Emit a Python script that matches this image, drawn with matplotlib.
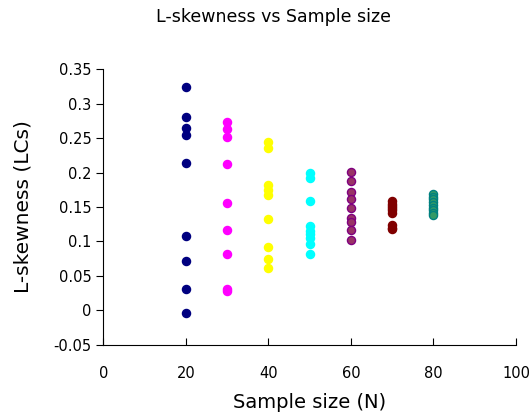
import matplotlib
matplotlib.use('Agg')
import matplotlib.pyplot as plt

plt.rcParams['font.family'] = ['DejaVu Sans']

# sample sizes and L-skewness values
n20 = [0.3235, 0.2809, 0.2649, 0.2539, 0.2138, 0.1084, 0.0717, 0.0312, -0.0032]
n30 = [0.2736, 0.2626, 0.2519, 0.2119, 0.1554, 0.1167, 0.0823, 0.0310, 0.0285]
n40 = [0.2446, 0.2359, 0.1819, 0.1746, 0.1674, 0.1326, 0.0925, 0.0742, 0.0620]
n50 = [0.1988, 0.1916, 0.1591, 0.1225, 0.1150, 0.1109, 0.1046, 0.0959, 0.0819]
n60 = [0.2003, 0.1872, 0.1717, 0.1612, 0.1490, 0.1336, 0.1287, 0.1167, 0.1026]
n70 = [0.1580, 0.1550, 0.1510, 0.1480, 0.1450, 0.1420, 0.1240, 0.1200, 0.1180]
n80 = [0.1690, 0.1650, 0.1610, 0.1570, 0.1530, 0.1490, 0.1450, 0.1410, 0.1380]

sizes = [20, 30, 40, 50, 60, 70, 80]
series = [n20, n30, n40, n50, n60, n70, n80]
faces = ['#000080', '#FF00FF', '#FFFF00', '#00FFFF', '#993366', '#800000', '#339966']
edges = ['#000080', '#FF00FF', '#FFFF00', '#00FFFF', '#800080', '#800000', '#008080']

fig = plt.figure(figsize=(5.32, 4.19), dpi=100)
ax = fig.add_axes([0.194, 0.177, 0.776, 0.658])

for n, vals, fc, ec in zip(sizes, series, faces, edges):
    ax.scatter([n] * len(vals), vals, s=34, c=fc, edgecolors=ec, linewidths=1.0, zorder=3)

ax.set_xlim(0, 100)
ax.set_ylim(-0.05, 0.35)
ax.set_xticks(range(0, 101, 20))
ax.set_yticks([-0.05, 0, 0.05, 0.1, 0.15, 0.2, 0.25, 0.3, 0.35])
ax.set_yticklabels(['-0.05', '0', '0.05', '0.1', '0.15', '0.2', '0.25', '0.3', '0.35'])
ax.spines['top'].set_visible(False)
ax.spines['right'].set_visible(False)
ax.tick_params(axis='x', direction='in', length=5, labelsize=10.5, pad=15)
ax.tick_params(axis='y', direction='out', length=5, labelsize=10.5)

ax.set_xlabel('Sample size (N)', fontsize=14, labelpad=9)
ax.set_ylabel('L-skewness (LCs)', fontsize=14.5)
ax.yaxis.set_label_coords(-0.172, 0.5)
fig.suptitle('L-skewness vs Sample size', x=0.515, y=0.98, fontsize=12.5)

fig.savefig('out.png', dpi=100)
